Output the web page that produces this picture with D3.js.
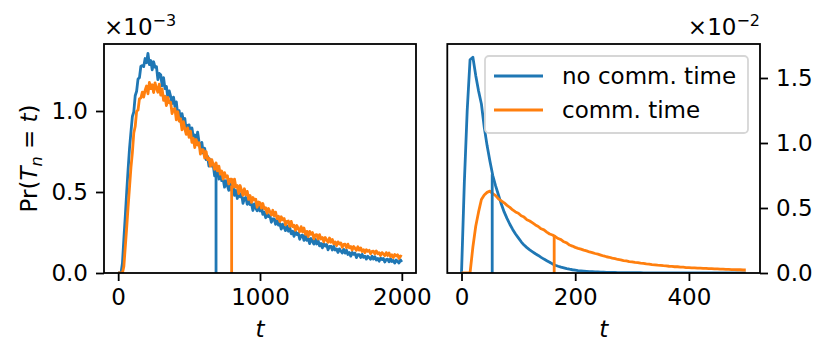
<!DOCTYPE html>
<meta charset="utf-8">
<script src="https://d3js.org/d3.v7.min.js"></script>
<style>
  body { margin: 0; background: #fff; }
  text { font-family: "DejaVu Sans", sans-serif; }
</style>
<div id="chart"></div>
<script>
// ---- data ----
// left panel: Pr(T_n = t) in units of 1e-3, one value every 10 steps of t
const leftT = d3.range(0, 2001, 10)
const leftNoComm = [
  0, 0, 0, 0.06, 0.21, 0.35, 0.5, 0.64, 0.77, 0.87,
  0.966, 0.994, 1.094, 1.122, 1.198, 1.206, 1.276, 1.28, 1.274, 1.324,
  1.298, 1.356, 1.286, 1.312, 1.254, 1.304, 1.27, 1.274, 1.194, 1.232,
  1.224, 1.156, 1.206, 1.138, 1.152, 1.084, 1.124, 1.09, 1.046, 1.086,
  1.028, 1.056, 0.976, 1.002, 0.934, 0.984, 0.94, 0.954, 0.874, 0.912,
  0.914, 0.846, 0.896, 0.838, 0.852, 0.794, 0.87, 0.81, 0.766, 0.806,
  0.74, 0.77, 0.70, 0.72, 0.66, 0.70, 0.66, 0.67, 0.60, 0.63,
  0.63, 0.58, 0.62, 0.57, 0.58, 0.53, 0.57, 0.54, 0.51, 0.56,
  0.51, 0.54, 0.48, 0.51, 0.46, 0.50, 0.47, 0.49, 0.43, 0.46,
  0.466, 0.424, 0.454, 0.422, 0.428, 0.386, 0.426, 0.40, 0.384, 0.414,
  0.383, 0.404, 0.362, 0.376, 0.341, 0.369, 0.348, 0.355, 0.313, 0.334,
  0.334, 0.30, 0.33, 0.296, 0.305, 0.271, 0.301, 0.2815, 0.262, 0.291,
  0.258, 0.281, 0.242, 0.258, 0.226, 0.256, 0.238, 0.247, 0.208, 0.231,
  0.234, 0.202, 0.234, 0.202, 0.213, 0.181, 0.213, 0.1955, 0.178, 0.209,
  0.179, 0.2, 0.167, 0.182, 0.155, 0.182, 0.167, 0.176, 0.143, 0.164,
  0.165, 0.142, 0.165, 0.142, 0.149, 0.127, 0.149, 0.136, 0.123, 0.146,
  0.123, 0.141, 0.114, 0.126, 0.104, 0.127, 0.115, 0.123, 0.095, 0.113,
  0.114, 0.096, 0.115, 0.097, 0.104, 0.086, 0.104, 0.095, 0.085, 0.104,
  0.086, 0.101, 0.08, 0.09, 0.073, 0.092, 0.083, 0.09, 0.068, 0.083,
  0.086, 0.069, 0.088, 0.071, 0.078, 0.061, 0.08, 0.071, 0.062, 0.081,
  0.068
]
const leftComm = [
  0, 0, 0, 0, 0.04, 0.16, 0.28, 0.41, 0.53, 0.65,
  0.742, 0.864, 0.904, 0.998, 1.006, 1.076, 1.08, 1.116, 1.086, 1.128,
  1.154, 1.106, 1.176, 1.138, 1.162, 1.114, 1.174, 1.14, 1.116, 1.166,
  1.098, 1.136, 1.066, 1.092, 1.034, 1.084, 1.05, 1.054, 0.984, 1.012,
  1.014, 0.946, 0.996, 0.938, 0.952, 0.884, 0.934, 0.89, 0.856, 0.896,
  0.838, 0.876, 0.806, 0.832, 0.774, 0.824, 0.79, 0.804, 0.734, 0.762,
  0.76, 0.71, 0.75, 0.70, 0.71, 0.66, 0.70, 0.67, 0.64, 0.68,
  0.63, 0.66, 0.61, 0.63, 0.58, 0.62, 0.59, 0.60, 0.55, 0.58,
  0.58, 0.53, 0.58, 0.53, 0.54, 0.49, 0.54, 0.51, 0.48, 0.52,
  0.482, 0.504, 0.454, 0.478, 0.436, 0.466, 0.45, 0.456, 0.406, 0.438,
  0.434, 0.40, 0.429, 0.395, 0.403, 0.369, 0.398, 0.378, 0.358, 0.387,
  0.353, 0.376, 0.335, 0.351, 0.318, 0.347, 0.328, 0.337, 0.297, 0.319,
  0.321, 0.288, 0.319, 0.286, 0.295, 0.263, 0.293, 0.274, 0.255, 0.286,
  0.253, 0.278, 0.239, 0.257, 0.225, 0.257, 0.239, 0.25, 0.211, 0.236,
  0.237, 0.21, 0.237, 0.21, 0.219, 0.192, 0.219, 0.204, 0.189, 0.216,
  0.19, 0.207, 0.18, 0.192, 0.169, 0.192, 0.179, 0.186, 0.158, 0.176,
  0.178, 0.156, 0.178, 0.156, 0.164, 0.142, 0.164, 0.152, 0.14, 0.162,
  0.141, 0.155, 0.133, 0.144, 0.126, 0.144, 0.134, 0.14, 0.119, 0.133,
  0.135, 0.118, 0.136, 0.119, 0.125, 0.108, 0.126, 0.117, 0.107, 0.126,
  0.108, 0.123, 0.102, 0.112, 0.095, 0.114, 0.105, 0.112, 0.09, 0.105,
  0.10
]
// right panel: Pr(T_n = t) in units of 1e-2, one value every 5 steps of t
const rightT = d3.range(0, 501, 5)
const rightNoComm = [
  0, 0.70, 1.25, 1.64, 1.66, 1.52, 1.40, 1.30, 1.12, 0.98,
  0.86, 0.75, 0.67, 0.60, 0.53, 0.47, 0.42, 0.375, 0.335, 0.30,
  0.27, 0.24, 0.215, 0.195, 0.178, 0.163, 0.148, 0.135, 0.12, 0.107,
  0.095, 0.083, 0.07, 0.06, 0.052, 0.045, 0.04, 0.034, 0.029, 0.025,
  0.022, 0.019, 0.017, 0.015, 0.013, 0.011, 0.01, 0.009, 0.008, 0.007,
  0.006, 0.005, 0.005, 0.004, 0.004, 0.003, 0.003, 0.003, 0.002, 0.002,
  0.002, 0.002, 0.002, 0.002, 0.001, 0.001, 0.001, 0.001, 0.001, 0.001,
  0.001, 0.001, 0.001, 0.001, 0.001, 0.001, 0.001, 0.001, 0.001, 0.001,
  0.001, 0.001, 0.001, 0.0005, 0.0005, 0.0005, 0.0005, 0.0005, 0.0005, 0.0005,
  0.0005, 0.0005, 0.0005, 0.0005, 0.0005, 0.0005, 0.0005, 0.0005, 0.0005, 0.0005,
  0.0005
]
const rightComm = [
  0, 0, 0, 0, 0.20, 0.36, 0.47, 0.565, 0.60, 0.62,
  0.63, 0.61, 0.595, 0.57, 0.555, 0.54, 0.52, 0.505, 0.485, 0.47,
  0.46, 0.44, 0.43, 0.41, 0.40, 0.385, 0.37, 0.358, 0.34, 0.332,
  0.315, 0.30, 0.292, 0.28, 0.265, 0.257, 0.24, 0.232, 0.215, 0.207,
  0.197, 0.19, 0.184, 0.176, 0.17, 0.162, 0.157, 0.15, 0.145, 0.138,
  0.131, 0.125, 0.121, 0.114, 0.11, 0.104, 0.101, 0.096, 0.093, 0.088,
  0.086, 0.082, 0.08, 0.076, 0.074, 0.07, 0.068, 0.064, 0.063, 0.06,
  0.059, 0.056, 0.055, 0.052, 0.051, 0.048, 0.048, 0.045, 0.045, 0.042,
  0.042, 0.04, 0.04, 0.038, 0.038, 0.036, 0.036, 0.034, 0.034, 0.032,
  0.032, 0.03, 0.03, 0.028, 0.028, 0.026, 0.026, 0.025, 0.025, 0.023,
  0.023
]
// vertical markers (t, height)
const leftMarkT = [690, 800], leftMarkV = [0.62, 0.54]
const rightMarkT = [54, 163], rightMarkV = [0.76, 0.285]

const seriesNames = ["no comm. time", "comm. time"]
const colors = ["#1f77b4", "#ff7f0e"]
const leftXTicks = [0, 1000, 2000], leftYTicks = [0, 0.5, 1.0]
const rightXTicks = [0, 200, 400], rightYTicks = [0, 0.5, 1.0, 1.5]

// ---- layout ----
const W = 831, H = 362
const fontSize = 23, tickLen = 8, tickPad = 8

const svg = d3.select("#chart").append("svg")
    .attr("width", W).attr("height", H)

function panel(opt) {
    const x = d3.scaleLinear().domain(opt.xDomain).range([opt.left, opt.right])
    const y = d3.scaleLinear().domain(opt.yDomain).range([opt.bottom, opt.top])
    const g = svg.append("g")
    const clipId = "clip" + opt.id
    g.append("clipPath").attr("id", clipId).append("rect")
        .attr("x", opt.left).attr("y", opt.top)
        .attr("width", opt.right - opt.left).attr("height", opt.bottom - opt.top)

    const plot = g.append("g").attr("clip-path", `url(#${clipId})`)
    opt.series.forEach(function (vals, i) {
        plot.append("path")
            .datum(vals.map((v, k) => [opt.t[k], v]))
            .attr("d", d3.line().x(d => x(d[0])).y(d => y(d[1])))
            .attr("fill", "none")
            .attr("stroke", colors[i])
            .attr("stroke-width", 2.8)
            .attr("stroke-linejoin", "round")
    })
    opt.markT.forEach(function (t, i) {
        plot.append("line")
            .attr("x1", x(t)).attr("x2", x(t))
            .attr("y1", y(0)).attr("y2", y(opt.markV[i]))
            .attr("stroke", colors[i])
            .attr("stroke-width", 2.8)
    })

    // x axis
    const xa = g.append("g")
        .attr("transform", `translate(0,${opt.bottom})`)
        .call(d3.axisBottom(x).tickValues(opt.xTicks).tickFormat(d3.format("d"))
            .tickSize(tickLen).tickPadding(tickPad).tickSizeOuter(0))
    // y axis
    const axisY = opt.yRight ? d3.axisRight(y) : d3.axisLeft(y)
    const ya = g.append("g")
        .attr("transform", `translate(${opt.yRight ? opt.right : opt.left},0)`)
        .call(axisY.tickValues(opt.yTicks).tickFormat(d3.format(".1f"))
            .tickSize(tickLen).tickPadding(tickPad).tickSizeOuter(0))
    ;[xa, ya].forEach(a => {
        a.select(".domain").remove()
        a.selectAll("line").attr("stroke", "#000").attr("stroke-width", 1.8)
        a.selectAll("text").attr("font-size", fontSize).attr("fill", "#000")
            .attr("font-family", "DejaVu Sans")
    })

    // frame
    g.append("rect")
        .attr("x", opt.left).attr("y", opt.top)
        .attr("width", opt.right - opt.left).attr("height", opt.bottom - opt.top)
        .attr("fill", "none").attr("stroke", "#000").attr("stroke-width", 1.8)

    // x label
    g.append("text")
        .attr("x", (opt.left + opt.right) / 2).attr("y", 337)
        .attr("text-anchor", "middle").attr("font-size", fontSize)
        .attr("font-style", "italic").text("t")

    // offset text ×10^-k
    const off = g.append("text")
        .attr("x", opt.yRight ? opt.right : opt.left).attr("y", 35)
        .attr("text-anchor", opt.yRight ? "end" : "start")
        .attr("font-size", fontSize)
    off.append("tspan").text("×10")
    off.append("tspan").attr("font-size", 16).attr("dy", -9).text("−" + opt.exponent)

    return {x, y, g}
}

const L = panel({
    id: "L", left: 104, right: 416, top: 44, bottom: 273,
    xDomain: [-100, 2100], yDomain: [0, 1.4136],
    t: leftT, series: [leftNoComm, leftComm],
    markT: leftMarkT, markV: leftMarkV,
    xTicks: leftXTicks, yTicks: leftYTicks, yRight: false, exponent: 3
})
const R = panel({
    id: "R", left: 447.3, right: 760, top: 44, bottom: 273,
    xDomain: [-25, 525], yDomain: [0, 1.7615],
    t: rightT, series: [rightNoComm, rightComm],
    markT: rightMarkT, markV: rightMarkV,
    xTicks: rightXTicks, yTicks: rightYTicks, yRight: true, exponent: 2
})

// y label
const yl = svg.append("text")
    .attr("transform", `translate(37,${(44 + 273) / 2}) rotate(-90)`)
    .attr("text-anchor", "middle").attr("font-size", fontSize)
yl.append("tspan").text("Pr(")
yl.append("tspan").attr("font-style", "italic").text("T")
yl.append("tspan").attr("font-style", "italic").attr("font-size", 16).attr("dy", 5).text("n")
yl.append("tspan").attr("dy", -5).text(" = ")
yl.append("tspan").attr("font-style", "italic").text("t")
yl.append("tspan").text(")")

// legend (right panel)
const lg = svg.append("g")
lg.append("rect")
    .attr("x", 485).attr("y", 56).attr("width", 263).attr("height", 77)
    .attr("rx", 4).attr("fill", "#fff").attr("fill-opacity", 0.8)
    .attr("stroke", "#d6d6d6").attr("stroke-width", 1.8)
seriesNames.forEach(function (name, i) {
    const yy = 76 + i * 34
    lg.append("line").attr("x1", 494).attr("x2", 543)
        .attr("y1", yy).attr("y2", yy)
        .attr("stroke", colors[i]).attr("stroke-width", 2.8)
    lg.append("text").attr("x", 562).attr("y", yy + 8)
        .attr("font-size", fontSize).text(name)
})
</script>
